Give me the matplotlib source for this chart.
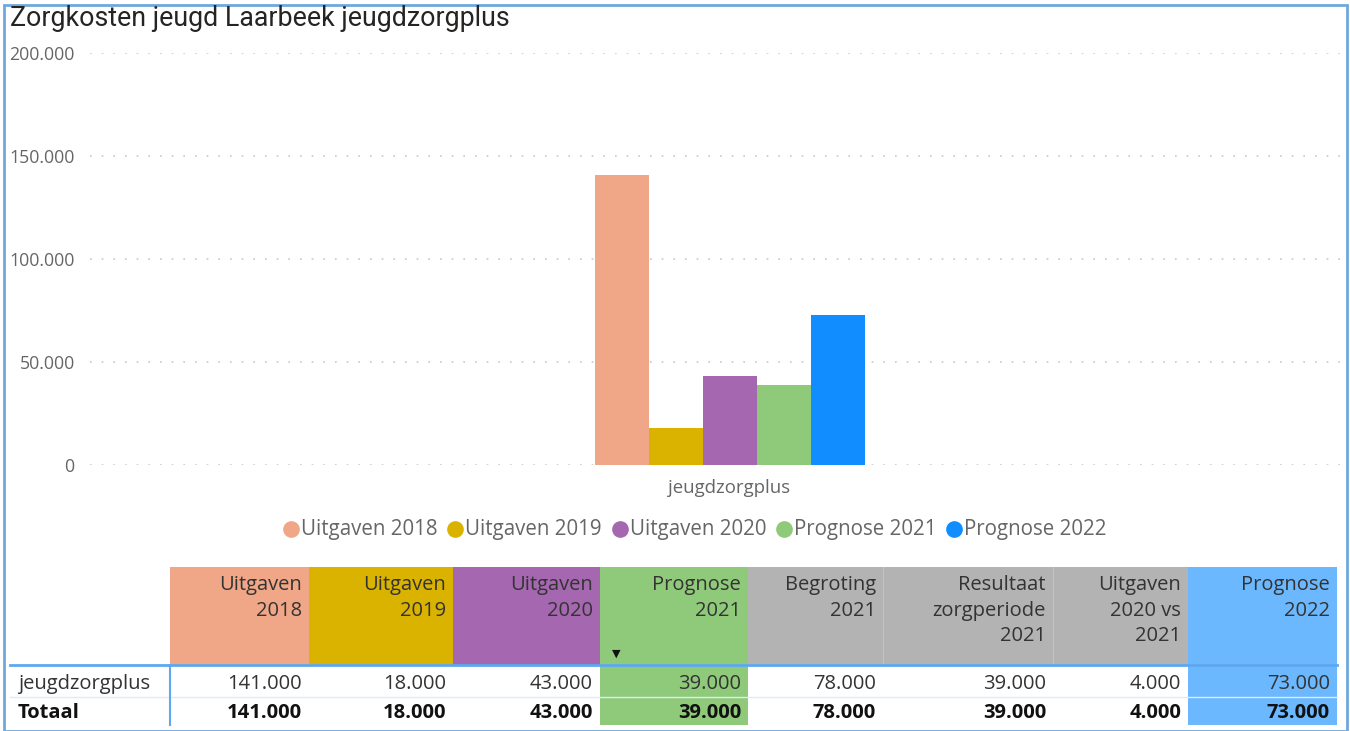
import matplotlib
matplotlib.use("Agg")
import matplotlib.pyplot as plt
from matplotlib.patches import Rectangle
from matplotlib.lines import Line2D
from matplotlib.ticker import FuncFormatter

# ---- data ----
category = "jeugdzorgplus"
series_labels = ["Uitgaven 2018", "Uitgaven 2019", "Uitgaven 2020", "Prognose 2021", "Prognose 2022"]
series_values = [141000, 18000, 43000, 39000, 73000]
series_colors = ["#F0A787", "#DAB300", "#A567AF", "#8FC97A", "#118DFF"]

y_ticks = [0, 50000, 100000, 150000, 200000]

table_headers = ["Uitgaven\n2018", "Uitgaven\n2019", "Uitgaven\n2020", "Prognose\n2021",
                 "Begroting\n2021", "Resultaat\nzorgperiode\n2021", "Uitgaven\n2020 vs\n2021",
                 "Prognose\n2022"]
table_row_values = [141000, 18000, 43000, 39000, 78000, 39000, 4000, 73000]
table_total_values = [141000, 18000, 43000, 39000, 78000, 39000, 4000, 73000]
row_labels = ["jeugdzorgplus", "Totaal"]
header_colors = ["#F0A787", "#DAB300", "#A567AF", "#8FC97A",
                 "#B3B3B3", "#B3B3B3", "#B3B3B3", "#6CB8FF"]
body_colors = [None, None, None, "#8FC97A", None, None, None, "#6CB8FF"]

W, H = 1350, 731
FONT = "Open Sans"
TXT = 14.5


def fx(px):
    return px / W


def fy(py):
    return 1 - py / H


def nl(v):
    return f"{v:,.0f}".replace(",", ".")


fig = plt.figure(figsize=(W / 100, H / 100), dpi=100)
fig.patch.set_facecolor("white")

# outer frame
fig.add_artist(Rectangle((fx(4), fy(731)), fx(1347 - 4), fy(5) - fy(731),
                         transform=fig.transFigure, fill=False,
                         edgecolor="#6FA8DC", linewidth=2.0))

# title
fig.text(fx(10), fy(18), "Zorgkosten jeugd Laarbeek jeugdzorgplus", family="Roboto",
         fontsize=19.3, color="#252423", ha="left", va="center")

# ---- bar chart ----
ax_l, ax_r, ax_t, ax_b = 90, 1340, 53, 465
ax = fig.add_axes([fx(ax_l), fy(ax_b), fx(ax_r - ax_l), fy(ax_t) - fy(ax_b)])
bar_w = 0.1
px_per_unit = 540.0
center_px = 729.5
ax.set_xlim(-(center_px - ax_l) / px_per_unit, (ax_r - center_px) / px_per_unit)
ax.set_ylim(0, 200000)
n = len(series_values)
for i, (v, c) in enumerate(zip(series_values, series_colors)):
    xpos = (i - (n - 1) / 2) * bar_w
    ax.bar(xpos, v, width=bar_w, color=c, zorder=3, linewidth=0)

for s in ax.spines.values():
    s.set_visible(False)
ax.set_yticks(y_ticks)
ax.yaxis.set_major_formatter(FuncFormatter(lambda v, p: nl(v)))
ax.grid(axis="y", color="#C8C8C8", linestyle=(0, (1, 6)), linewidth=1.2, zorder=0)
ax.set_xticks([0])
ax.set_xticklabels([category])
ax.tick_params(axis="y", length=0, pad=11, labelsize=12.8, labelcolor="#666666")
ax.tick_params(axis="x", length=0, pad=10, labelsize=13.4, labelcolor="#666666")
for lbl in ax.get_yticklabels() + ax.get_xticklabels():
    lbl.set_family(FONT)

# ---- legend ----
legend_y = 529
legend_x = [283, 447, 612, 776, 946]
for x0, lab, c in zip(legend_x, series_labels, series_colors):
    fig.add_artist(Line2D([fx(x0 + 8)], [fy(legend_y)], transform=fig.transFigure,
                          marker="o", markersize=11, color=c, linestyle="none"))
    fig.text(fx(x0 + 18), fy(legend_y), lab, family=FONT, fontsize=14.8,
             color="#666666", ha="left", va="center")

# ---- table ----
col_edges = [170, 309, 453, 600, 748, 883, 1053, 1188, 1337]
head_top, head_bot = 567, 665
row2_bot = 725

for j in range(len(table_headers)):
    x0, x1 = col_edges[j], col_edges[j + 1]
    fig.add_artist(Rectangle((fx(x0), fy(head_bot)), fx(x1 - x0), fy(head_top) - fy(head_bot),
                             transform=fig.transFigure, facecolor=header_colors[j],
                             edgecolor="none"))
    if body_colors[j]:
        fig.add_artist(Rectangle((fx(x0), fy(row2_bot)), fx(x1 - x0),
                                 fy(head_bot) - fy(row2_bot),
                                 transform=fig.transFigure, facecolor=body_colors[j],
                                 edgecolor="none"))
    fig.text(fx(x1 - 7), fy(head_top + 8), table_headers[j], family=FONT, fontsize=TXT,
             color="#333333", ha="right", va="top", linespacing=1.38)
    fig.text(fx(x1 - 7), fy(684), nl(table_row_values[j]), family=FONT, fontsize=TXT,
             color="#333333", ha="right", va="center")
    fig.text(fx(x1 - 7), fy(713), nl(table_total_values[j]), family=FONT, fontsize=TXT,
             weight="bold", color="#111111", ha="right", va="center")

# subtle separators inside the grey header block
for xs in [883, 1053]:
    fig.add_artist(Line2D([fx(xs), fx(xs)], [fy(head_top), fy(head_bot)],
                          transform=fig.transFigure, color="#C4C4C4", linewidth=0.8))

# sort marker on the Prognose 2021 header
fig.text(fx(616), fy(654), "\u25BC", family="DejaVu Sans", fontsize=8,
         color="#111111", ha="center", va="center")

# header / body separator lines
fig.add_artist(Line2D([fx(10), fx(1337)], [fy(665), fy(665)], transform=fig.transFigure,
                      color="#5DA8F0", linewidth=2.0))
fig.add_artist(Line2D([fx(10), fx(1337)], [fy(697), fy(697)], transform=fig.transFigure,
                      color="#DCEBFA", linewidth=1.0))
fig.add_artist(Line2D([fx(170), fx(170)], [fy(665), fy(725)], transform=fig.transFigure,
                      color="#5DA8F0", linewidth=1.5))

fig.text(fx(18), fy(684), row_labels[0], family=FONT, fontsize=TXT,
         color="#333333", ha="left", va="center")
fig.text(fx(18), fy(713), row_labels[1], family=FONT, fontsize=TXT, weight="bold",
         color="#111111", ha="left", va="center")

fig.savefig("out.png", dpi=100)
